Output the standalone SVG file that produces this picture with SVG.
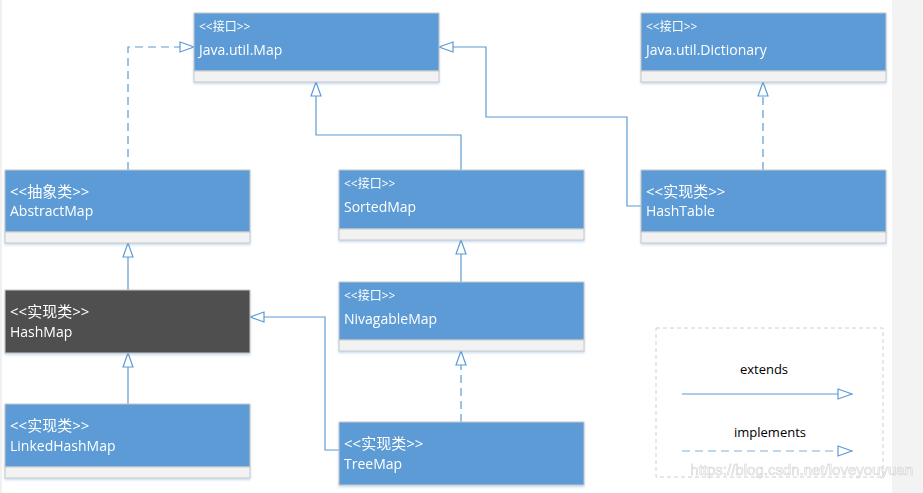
<svg xmlns="http://www.w3.org/2000/svg" width="923" height="493" viewBox="0 0 923 493">
<defs>
<style>
.box{fill:#5B9BD5;stroke:#C8C8C8;stroke-width:1}
.dark{fill:#505050;stroke:#C8C8C8;stroke-width:1}
.comp{fill:#F2F2F2;stroke:#C8C8C8;stroke-width:1}
.t{font-family:"Open Sans","Noto Sans CJK SC",sans-serif;fill:#FFFFFF;font-size:14px}
.k{font-family:"Open Sans","Noto Sans CJK SC",sans-serif;fill:#FFFFFF;font-size:15px}
.s{font-family:"Open Sans","Noto Sans CJK SC",sans-serif;fill:#FFFFFF;font-size:12px}
.c{fill:none;stroke:#5B9BD5;stroke-width:1.2;marker-end:url(#tri)}
.d{stroke-dasharray:8,5}
.lg{font-family:"Open Sans",sans-serif;fill:#000;font-size:13px;text-anchor:middle}
</style>
<marker id="tri" viewBox="0 0 16 12" refX="15" refY="6" markerWidth="16" markerHeight="12" markerUnits="userSpaceOnUse" orient="auto">
<path d="M1,1 L15,6 L1,11 Z" fill="#FFFFFF" stroke="#5B9BD5" stroke-width="1.2"/>
</marker>
<filter id="sh" x="-5%" y="-5%" width="110%" height="120%">
<feDropShadow dx="0" dy="1.5" stdDeviation="1.2" flood-color="#5B9BD5" flood-opacity="0.35"/>
</filter>
</defs>
<rect width="923" height="493" fill="#FFFFFF"/>
<rect x="892" y="0" width="31" height="493" fill="#F3F3F3"/>
<rect x="0" y="0" width="2" height="493" fill="#F0F0F0"/>

<g id="connectors">
<path class="c d" d="M128,170 V47 H194"/>
<path class="c" d="M461,170 V135 H316 V82"/>
<path class="c" d="M641,206 H627 V117 H486 V47 H439"/>
<path class="c d" d="M763,170 V82"/>
<path class="c" d="M128,290 V243"/>
<path class="c" d="M128,404 V353"/>
<path class="c" d="M339,450 H325 V317 H250"/>
<path class="c" d="M461,282 V240"/>
<path class="c d" d="M461,422 V351"/>
</g>

<g id="map" filter="url(#sh)">
<rect class="box" x="194" y="13" width="245" height="58"/>
<rect class="comp" x="194" y="71" width="245" height="11"/>
<text class="s" x="199" y="31">&lt;&lt;接口&gt;&gt;</text>
<text class="t" x="199" y="55">Java.util.Map</text>
</g>

<g id="dictionary" filter="url(#sh)">
<rect class="box" x="641" y="13" width="245" height="58"/>
<rect class="comp" x="641" y="71" width="245" height="11"/>
<text class="s" x="646" y="31">&lt;&lt;接口&gt;&gt;</text>
<text class="t" x="646" y="55">Java.util.Dictionary</text>
</g>

<g id="abstractmap" filter="url(#sh)">
<rect class="box" x="5" y="170" width="245" height="62"/>
<rect class="comp" x="5" y="232" width="245" height="11"/>
<text class="k" x="10" y="197">&lt;&lt;抽象类&gt;&gt;</text>
<text class="t" x="10" y="216">AbstractMap</text>
</g>

<g id="sortedmap" filter="url(#sh)">
<rect class="box" x="339" y="170" width="245" height="59"/>
<rect class="comp" x="339" y="229" width="245" height="11"/>
<text class="s" x="344" y="188">&lt;&lt;接口&gt;&gt;</text>
<text class="t" x="344" y="212">SortedMap</text>
</g>

<g id="hashtable" filter="url(#sh)">
<rect class="box" x="641" y="170" width="245" height="62"/>
<rect class="comp" x="641" y="232" width="245" height="11"/>
<text class="k" x="646" y="197">&lt;&lt;实现类&gt;&gt;</text>
<text class="t" x="646" y="216">HashTable</text>
</g>

<g id="hashmap" filter="url(#sh)">
<rect class="dark" x="5" y="290" width="245" height="63"/>
<text class="k" x="10" y="317">&lt;&lt;实现类&gt;&gt;</text>
<text class="t" x="10" y="337">HashMap</text>
</g>

<g id="nivagablemap" filter="url(#sh)">
<rect class="box" x="339" y="282" width="245" height="58"/>
<rect class="comp" x="339" y="340" width="245" height="11"/>
<text class="s" x="344" y="300">&lt;&lt;接口&gt;&gt;</text>
<text class="t" x="344" y="324">NivagableMap</text>
</g>

<g id="linkedhashmap" filter="url(#sh)">
<rect class="box" x="5" y="404" width="245" height="63"/>
<rect class="comp" x="5" y="467" width="245" height="11"/>
<text class="k" x="10" y="431">&lt;&lt;实现类&gt;&gt;</text>
<text class="t" x="10" y="451">LinkedHashMap</text>
</g>

<g id="treemap" filter="url(#sh)">
<rect class="box" x="339" y="422" width="245" height="63"/>
<text class="k" x="344" y="449">&lt;&lt;实现类&gt;&gt;</text>
<text class="t" x="344" y="469">TreeMap</text>
</g>

<g id="legend">
<rect x="656" y="328" width="227" height="149" fill="none" stroke="#D0D0D0" stroke-width="1" stroke-dasharray="4,3"/>
<text class="lg" x="764" y="374">extends</text>
<path class="c" d="M682,394 H852"/>
<text class="lg" x="770" y="437">implements</text>
<path class="c d" d="M682,451 H852" style="stroke:#7FAFDF"/>
</g>

<text x="913" y="475" text-anchor="end" font-family="Liberation Sans,sans-serif" font-size="15" fill="#FFFFFF" stroke="#C8C8C8" stroke-width="0.6" opacity="0.8">https://blog.csdn.net/loveyouyuan</text>
</svg>
